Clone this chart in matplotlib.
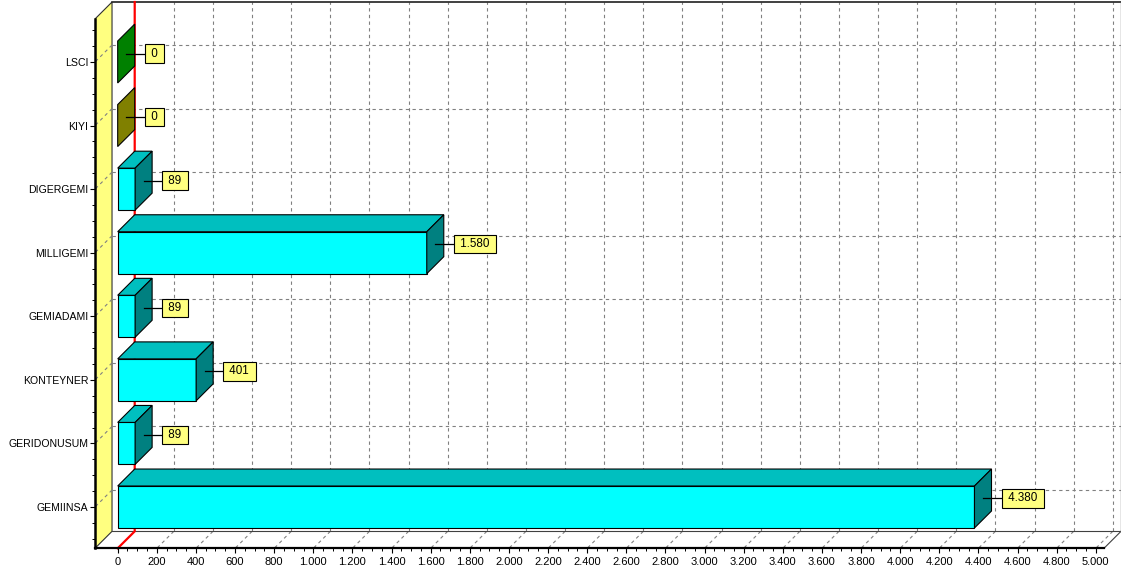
import matplotlib.pyplot as plt
from matplotlib.patches import Polygon
from matplotlib.ticker import FixedLocator, FuncFormatter
import numpy as np

plt.rcParams['font.family'] = ['Liberation Sans', 'DejaVu Sans']

categories = ['GEMIINSA', 'GERIDONUSUM', 'KONTEYNER', 'GEMIADAMI',
              'MILLIGEMI', 'DIGERGEMI', 'KIYI', 'LSCI']
values = [4380, 89, 401, 89, 1580, 89, 0, 0]
bar_colors = ['#00FFFF', '#00FFFF', '#00FFFF', '#00FFFF',
              '#00FFFF', '#00FFFF', '#FFFF00', '#00FF00']
x_ticks = np.arange(0, 5001, 200)


def tr_num(v, pos=None):
    # Turkish style thousands separator
    return f"{int(v):,}".replace(',', '.')


def shade(col, f):
    c = np.array(plt.matplotlib.colors.to_rgb(col))
    return tuple(c * f)


# plot box and 3D depth (data units)
x0, x1 = -116, 5129
y0, y1 = -0.65, 7.944
dx, dy = 87, 0.267
half = 0.33

fig = plt.figure(figsize=(11.21, 5.79), dpi=100)
ax = fig.add_axes([95 / 1121, (579 - 548.3) / 579, (1121 - 95) / 1121, (548.3 - 2) / 579])
ax.set_xlim(x0, x1)
ax.set_ylim(y0, y1)

grid_kw = dict(color='#808080', lw=0.8, ls=(0, (3, 3)), zorder=1)

# back wall grid
for v in x_ticks[1:]:
    ax.plot([v + dx, v + dx], [y0 + dy, y1], **grid_kw)
    ax.plot([v + dx, v], [y0 + dy, y0], **grid_kw)
for i in range(len(categories)):
    ax.plot([x0 + dx, x1], [i + dy, i + dy], **grid_kw)

# left wall
ax.add_patch(Polygon([(x0, y0), (x0, y1 - dy), (x0 + dx, y1), (x0 + dx, y0 + dy)],
                     closed=True, facecolor='#FFFF80', edgecolor='#303030', lw=0.8, zorder=0.5))
for i in range(len(categories)):
    ax.plot([x0 + dx, x0], [i + dy, i], **grid_kw)

# floor and frame edges
ax.plot([x0 + dx, x1], [y0 + dy, y0 + dy], color='#404040', lw=0.8, zorder=1.2)
ax.plot([x1 - dx, x1], [y0, y0 + dy], color='#404040', lw=0.8, zorder=1.2, clip_on=False)
ax.plot([x0 + dx, x1], [y1, y1], color='#202020', lw=1.2, zorder=1.2, clip_on=False)
ax.plot([x1, x1], [y0 + dy, y1], color='#808080', lw=1.0, zorder=1.2, clip_on=False)

# zero line
ax.plot([dx, dx, 0], [y1, y0 + dy, y0], color='red', lw=1.6, zorder=1.5, clip_on=False)

# bars
for i, (v, col) in enumerate(zip(values, bar_colors)):
    lo, hi = i - half, i + half
    if v > 0:
        ax.add_patch(Polygon([(0, lo), (v, lo), (v, hi), (0, hi)], closed=True,
                             facecolor=col, edgecolor='black', lw=0.8, zorder=3))
        ax.add_patch(Polygon([(0, hi), (v, hi), (v + dx, hi + dy), (dx, hi + dy)], closed=True,
                             facecolor=shade(col, 0.75), edgecolor='black', lw=0.8, zorder=3))
    ax.add_patch(Polygon([(v, lo), (v, hi), (v + dx, hi + dy), (v + dx, lo + dy)], closed=True,
                         facecolor=shade(col, 0.5), edgecolor='black', lw=0.8, zorder=3))

    # value mark
    ly = i + dy / 2
    ax.plot([v + dx / 2, v + 155], [ly, ly], color='black', lw=0.9, zorder=4)
    ax.text(v + 155, ly, ' ' + tr_num(v) + ' ', ha='left', va='center', fontsize=8.4,
            zorder=5, bbox=dict(boxstyle='square,pad=0.28', facecolor='#FFFF80',
                                edgecolor='black', lw=0.8))

# front axes
for s in ['top', 'right']:
    ax.spines[s].set_visible(False)
ax.spines['bottom'].set_bounds(x0, x1 - dx)
ax.spines['left'].set_bounds(y0, y1 - dy)
ax.spines['bottom'].set_linewidth(1.6)
ax.spines['left'].set_linewidth(1.8)
ax.spines['bottom'].set_zorder(6)
ax.spines['left'].set_zorder(6)

ax.set_xticks(x_ticks)
ax.xaxis.set_major_formatter(FuncFormatter(tr_num))
ax.xaxis.set_minor_locator(FixedLocator([m for m in np.arange(0, 5001, 50) if m % 200]))
ax.set_yticks(range(len(categories)))
ax.set_yticklabels(categories)
ax.yaxis.set_minor_locator(FixedLocator([q for q in np.arange(-0.5, 7.51, 0.25) if q % 1]))

ax.tick_params(axis='x', which='major', length=3.6, width=0.8, pad=2.8, labelsize=8)
ax.tick_params(axis='x', which='minor', length=2.2, width=0.7)
ax.tick_params(axis='y', which='major', length=3.8, width=0.8, pad=1, labelsize=7.6)
ax.tick_params(axis='y', which='minor', length=2.2, width=0.7)

fig.savefig('out.png', dpi=100, facecolor='white')
